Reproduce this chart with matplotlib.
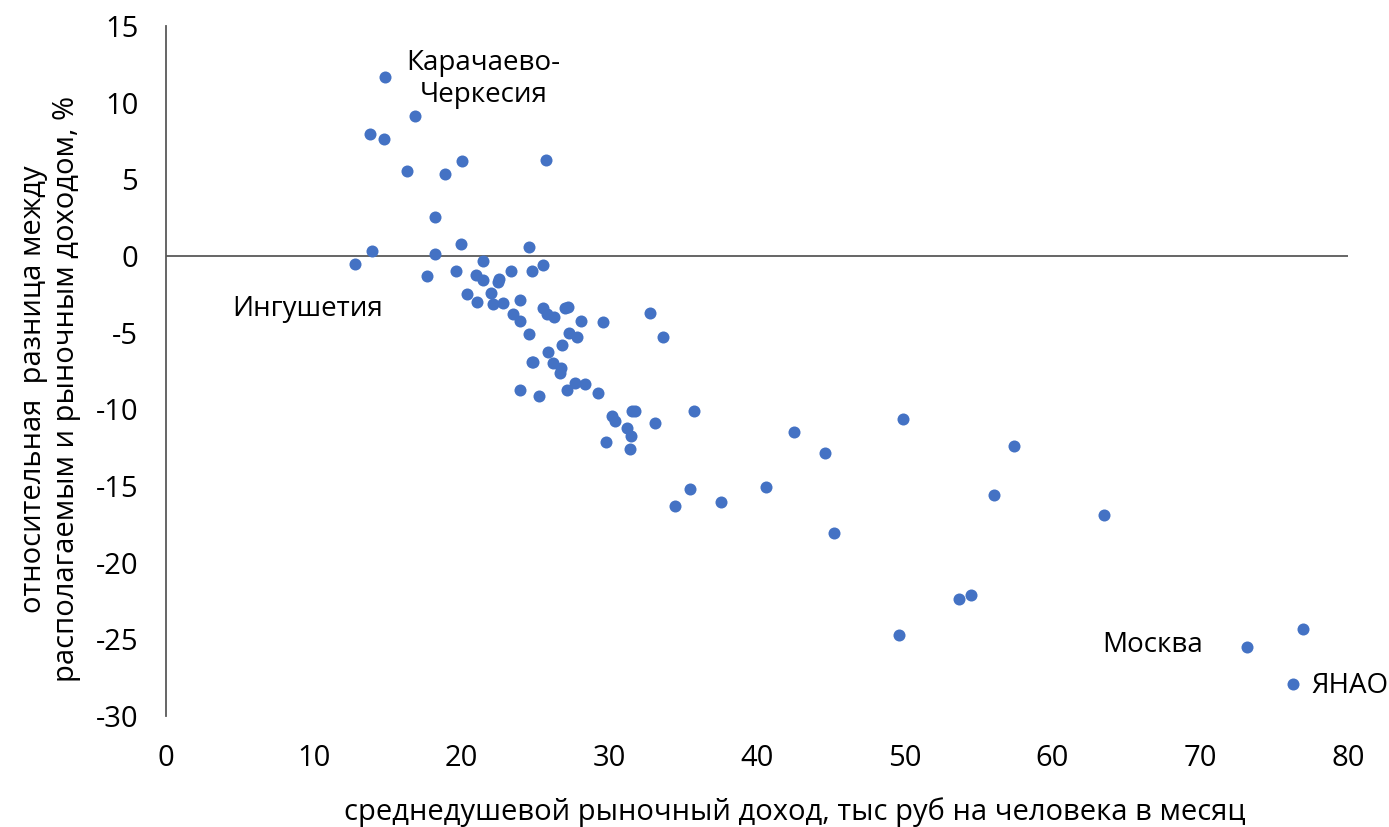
import matplotlib
matplotlib.use('agg')
import matplotlib.pyplot as plt

plt.rcParams["font.family"] = ["Open Sans", "DejaVu Sans"]
plt.rcParams["axes.unicode_minus"] = False
plt.rcParams.update({'font.size': 20})

# среднедушевой рыночный доход, тыс руб
income = [14.82, 16.85, 13.81, 14.75, 16.33, 18.88, 20.03, 25.72, 18.23,
          13.94, 12.81, 18.23, 19.94, 24.57, 21.43, 17.64, 19.63, 20.96,
          21.43, 23.33, 24.75, 25.49, 22.56, 22.50, 22.02, 20.40, 21.07,
          22.11, 22.83, 23.98, 23.51, 23.98, 25.49, 25.76, 26.28, 27.00,
          27.19, 28.07, 29.60, 32.73, 33.66, 24.57, 27.29, 27.79, 26.82,
          25.88, 24.75, 24.86, 26.17, 26.71, 26.66, 27.68, 28.38, 27.12,
          29.22, 23.98, 25.22, 30.16, 30.39, 31.52, 31.74, 31.22, 31.50,
          33.12, 29.78, 31.40, 35.76, 42.50, 44.58, 40.59, 35.47, 34.45,
          37.56, 45.23, 49.90, 57.37, 56.04, 63.46, 53.69, 54.46, 49.61,
          73.14, 76.93, 76.25]
# относительная разница, %
diff = [11.68, 9.13, 7.96, 7.63, 5.52, 5.37, 6.18, 6.26, 2.52,
        0.33, -0.50, 0.15, 0.78, 0.61, -0.30, -1.30, -0.96, -1.24,
        -1.59, -0.96, -0.96, -0.59, -1.50, -1.72, -2.41, -2.50, -2.98,
        -3.13, -3.07, -2.87, -3.78, -4.26, -3.41, -3.78, -3.96, -3.41,
        -3.30, -4.26, -4.33, -3.70, -5.26, -5.07, -5.04, -5.26, -5.81,
        -6.26, -6.89, -6.89, -7.00, -7.33, -7.65, -8.26, -8.37, -8.74,
        -8.91, -8.72, -9.11, -10.44, -10.76, -10.11, -10.11, -11.20, -11.74,
        -10.92, -12.11, -12.59, -10.11, -11.48, -12.85, -15.05, -15.22, -16.33,
        -16.07, -18.07, -10.65, -12.39, -15.61, -16.87, -22.37, -22.09, -24.74,
        -25.48, -24.35, -27.90]

labels = ["Карачаево-\nЧеркесия", "Ингушетия", "Москва", "ЯНАО"]
label_pos = [(21.5, 11.55), (9.6, -3.45), (66.8, -25.4), (80.1, -28.05)]

fig = plt.figure(figsize=(13.89, 8.27), dpi=100)
ax = fig.add_axes([0.1195, 0.1342, 0.851, 0.8344])

ax.scatter(income, diff, s=75, color='#4472C4', zorder=3, linewidths=0)
ax.axhline(0, color='#595959', linewidth=1.3, zorder=1)

ax.set_xlim(0, 80)
ax.set_ylim(-30, 15)
ax.set_xticks(range(0, 81, 10))
ax.set_yticks(range(-30, 16, 5))
ax.tick_params(length=0, labelsize=21)
ax.tick_params(axis='x', pad=20)
ax.tick_params(axis='y', pad=20)

for s in ['top', 'right', 'bottom']:
    ax.spines[s].set_visible(False)
ax.spines['left'].set_color('#595959')
ax.spines['left'].set_linewidth(1.3)

for txt, (lx, ly) in zip(labels, label_pos):
    ax.text(lx, ly, txt, ha='center', va='center', fontsize=20,
            linespacing=1.2, clip_on=False)

fig.text(0.572, 0.018, "среднедушевой рыночный доход, тыс руб на человека в месяц",
         ha='center', va='center', fontsize=21)
fig.text(0.036, 0.53, "относительная  разница между\nрасполагаемым и рыночным доходом, %",
         ha='center', va='center', rotation=90, fontsize=21, linespacing=1.15)

fig.savefig("out.png", dpi=100)
